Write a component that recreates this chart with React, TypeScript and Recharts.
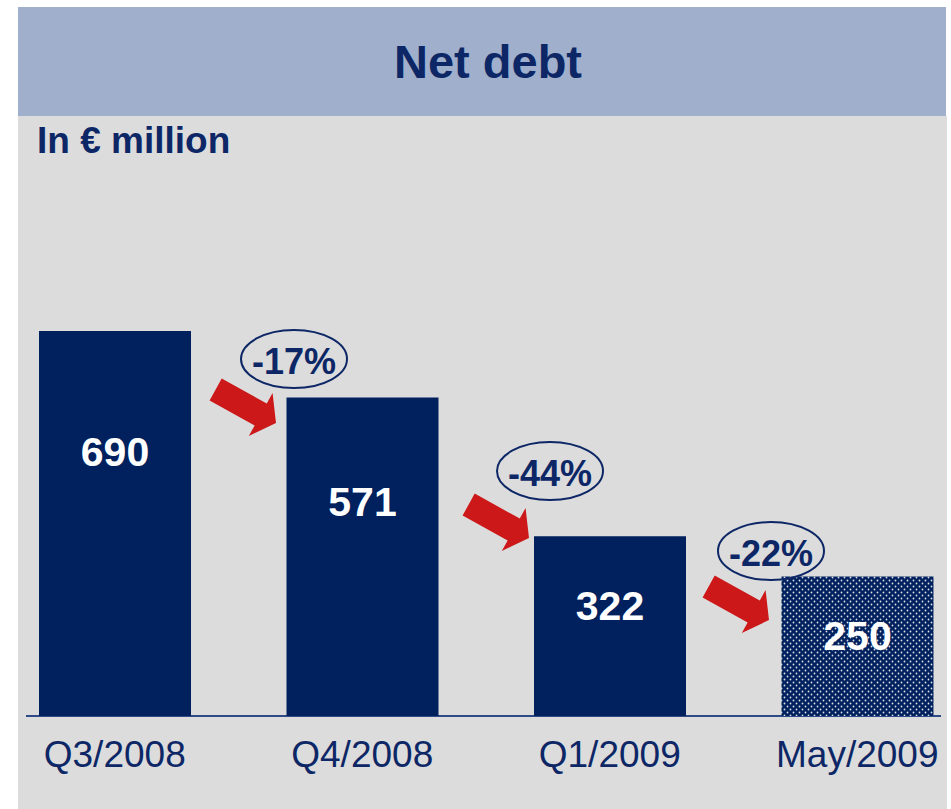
import { BarChart, Bar, XAxis, YAxis, Cell, LabelList } from 'recharts';

const periods = ['Q3/2008', 'Q4/2008', 'Q1/2009', 'May/2009'];
const netDebt = [690, 571, 322, 250];
const changes = ['-17%', '-44%', '-22%'];

const NAVY = '#00215e';
const TEXT_NAVY = '#0d2766';
const RED = '#cc1818';
const FONT = '"Liberation Sans", Arial, sans-serif';

const data = periods.map((period, i) => ({ period, value: netDebt[i] }));

// arrow + ellipse annotations sit between the bars
const arrowTips = [
  [276, 423],
  [529, 538],
  [769, 620],
];
const badgeCenters = [
  [294, 359],
  [550, 471],
  [771, 551],
];

const renderTick = (props: any) => {
  const { x, y, payload } = props;
  return (
    <text x={x} y={y + 51} textAnchor="middle" fill={TEXT_NAVY} fontSize={37} fontFamily={FONT}>
      {payload.value}
    </text>
  );
};

const renderValue = (props: any) => {
  const { x, y, width, height, value } = props;
  return (
    <text
      x={x + width / 2}
      y={y + 25 + height * 0.25}
      textAnchor="middle"
      dominantBaseline="central"
      fill="#ffffff"
      fontSize={41}
      fontWeight={700}
      fontFamily={FONT}
    >
      {value}
    </text>
  );
};

export default function App() {
  return (
    <div
      style={{
        position: 'absolute',
        top: 0,
        left: 0,
        width: 951,
        height: 809,
        background: '#ffffff',
        overflow: 'hidden',
        fontFamily: FONT,
      }}
    >
      <div style={{ position: 'absolute', left: 18, top: 116, width: 929, height: 693, background: '#dcdcdc' }} />
      <div
        style={{
          position: 'absolute',
          left: 18,
          top: 7,
          width: 928,
          height: 109,
          background: '#a0b0cc',
          color: TEXT_NAVY,
          fontSize: 47,
          fontWeight: 700,
          display: 'flex',
          alignItems: 'center',
          justifyContent: 'center',
          paddingLeft: 12,
          boxSizing: 'border-box',
        }}
      >
        Net debt
      </div>
      <div style={{ position: 'absolute', left: 37, top: 120, fontSize: 37, fontWeight: 700, color: TEXT_NAVY }}>
        In € million
      </div>
      <div style={{ position: 'absolute', left: 26, top: 715, width: 915, height: 2, background: '#2e4a87' }} />

      <div style={{ position: 'absolute', left: -9, top: 0 }}>
        <BarChart width={990} height={809} data={data} margin={{ top: 331, right: 0, bottom: 0, left: 0 }}>
          <defs>
            <pattern id="dots" width={6} height={6} patternUnits="userSpaceOnUse">
              <rect width={6} height={6} fill={NAVY} />
              <circle cx={1.5} cy={1.5} r={0.9} fill="#ffffff" fillOpacity={0.85} />
              <circle cx={4.5} cy={4.5} r={0.9} fill="#ffffff" fillOpacity={0.85} />
            </pattern>
          </defs>
          <XAxis
            dataKey="period"
            height={93}
            axisLine={false}
            tickLine={false}
            tickSize={0}
            tickMargin={0}
            tick={renderTick}
            interval={0}
          />
          <YAxis hide domain={[0, 690]} />
          <Bar dataKey="value" barSize={152} isAnimationActive={false}>
            {data.map((d, i) => (
              <Cell key={d.period} fill={i === data.length - 1 ? 'url(#dots)' : NAVY} />
            ))}
            <LabelList dataKey="value" content={renderValue} />
          </Bar>
        </BarChart>
      </div>

      <svg width={951} height={809} style={{ position: 'absolute', left: 0, top: 0, pointerEvents: 'none' }}>
        {arrowTips.map(([tx, ty], i) => (
          <polygon
            key={'a' + i}
            points="-69,-12.5 -17.5,-12.5 -17.5,-24.5 0,0 -17.5,24.5 -17.5,12.5 -69,12.5"
            fill={RED}
            transform={`translate(${tx},${ty}) rotate(29)`}
          />
        ))}
        {changes.map((c, i) => (
          <g key={'b' + i}>
            <ellipse
              cx={badgeCenters[i][0]}
              cy={badgeCenters[i][1]}
              rx={53}
              ry={29}
              fill="none"
              stroke={TEXT_NAVY}
              strokeWidth={2}
            />
            <text
              x={badgeCenters[i][0]}
              y={badgeCenters[i][1] + 2}
              textAnchor="middle"
              dominantBaseline="central"
              fill={TEXT_NAVY}
              fontSize={36}
              fontWeight={700}
              fontFamily={FONT}
            >
              {c}
            </text>
          </g>
        ))}
      </svg>
    </div>
  );
}
